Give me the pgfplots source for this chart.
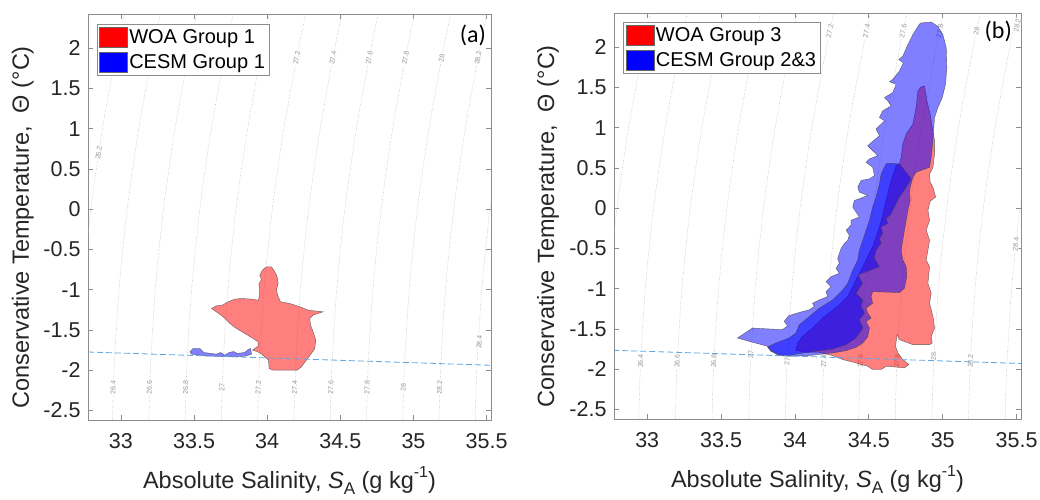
\documentclass[border=0pt]{standalone}
\usepackage{fontspec}
\setmainfont{Liberation Sans}
\newfontfamily\calib{Carlito}
\usepackage{pgfplots}
\usepackage{pgfplotstable}
\pgfplotsset{compat=1.18}
\definecolor{txt}{RGB}{38,38,38}
\definecolor{frz}{RGB}{95,165,222}
\definecolor{axgray}{RGB}{140,140,140}
\definecolor{dens}{RGB}{185,185,185}
\definecolor{dlab}{RGB}{150,150,150}

\pgfplotstableread{
T s262 s264 s266 s268 s270 s272 s274 s276 s278 s280 s282 s284
-2.62 32.695 32.943 33.191 33.439 33.687 33.935 34.183 34.431 34.679 34.927 35.175 35.423
-2.00 32.705 32.953 33.201 33.449 33.697 33.945 34.193 34.441 34.689 34.937 35.185 35.433
-1.00 32.739 32.987 33.235 33.483 33.731 33.979 34.227 34.475 34.723 34.971 35.219 35.467
 0.00 32.795 33.043 33.291 33.539 33.787 34.035 34.283 34.531 34.779 35.027 35.275 35.523
 1.00 32.874 33.122 33.370 33.618 33.866 34.114 34.362 34.610 34.858 35.106 35.354 35.602
 2.00 32.974 33.222 33.470 33.718 33.966 34.214 34.462 34.710 34.958 35.206 35.454 35.702
 2.42 33.022 33.270 33.518 33.766 34.014 34.262 34.510 34.758 35.006 35.254 35.502 35.750
}\denstab

\tikzset{dl/.style={font=\fontsize{7}{7}\selectfont, text=dlab, fill=white, inner sep=0.6pt}}

\pgfplotsset{
 tsax/.style={
   scale only axis, height=406pt,
   xmin=32.775, xmax=35.53, ymin=-2.62, ymax=2.425,
   xtick={33,33.5,34,34.5,35,35.5},
   xticklabels={33,33.5,34,34.5,35,35.5},
   ytick={-2.5,-2,-1.5,-1,-0.5,0,0.5,1,1.5,2},
   yticklabels={-2.5,-2,-1.5,-1,-0.5,0,0.5,1,1.5,2},
   tick align=inside, major tick length=5pt,
   axis line style={axgray, line width=0.7pt},
   tick style={axgray, line width=0.7pt},
   ticklabel style={font=\fontsize{21.5}{22}\selectfont, text=txt},
   xticklabel style={yshift=-10pt},
   yticklabel style={xshift=-4pt},
   xlabel={Absolute Salinity, \textit{S}\raisebox{-0.5ex}{\fontsize{17}{17}\selectfont A} (g kg\raisebox{0.85ex}{\fontsize{16}{16}\selectfont -1})},
   ylabel={Conservative Temperature,\ \ Θ (°C)},
   xlabel style={font=\fontsize{23.5}{24}\selectfont, text=txt, at={(axis description cs:0.5,-0.1675)}, anchor=base},
   ylabel style={font=\fontsize{23.5}{24}\selectfont, text=txt, at={(axis description cs:-0.162,0.475)}, anchor=center},
   legend style={draw=axgray, fill=white, font=\fontsize{20}{22}\selectfont, text=black,
      anchor=north west, inner xsep=2pt, inner ysep=3pt, row sep=4.5pt,
      nodes={inner sep=2pt}, cells={anchor=west}},
   legend image code/.code={\draw[##1] (0pt,-10pt) rectangle (28pt,10pt);},
 },
 densline/.style={dens, line width=0.5pt, dash pattern=on 0.8pt off 1.6pt, smooth, forget plot},
 redp/.style={fill=red, fill opacity=0.5, draw=black!75, draw opacity=0.8, line width=0.4pt, forget plot},
 bluep/.style={fill=blue, fill opacity=0.5, draw=black!75, draw opacity=0.8, line width=0.4pt, forget plot},
 frzline/.style={frz, line width=0.8pt, dash pattern=on 6pt off 3pt, forget plot},
}

\begin{document}
\begin{tikzpicture}
\path[use as bounding box] (0pt,0pt) rectangle (1040pt,499pt);

% ---------------- panel (a)
\begin{axis}[tsax, width=403pt, at={(88pt,79pt)}, anchor=south west,
  legend style={at={(axis description cs:0.0216,0.975)}}]
\addlegendimage{fill=red, draw=black!60}
\addlegendentry{WOA Group 1}
\addlegendimage{fill=blue, draw=black!60}
\addlegendentry{CESM Group 1}
\pgfplotsinvokeforeach{s262,s264,s266,s268,s270,s272,s274,s276,s278,s280,s282,s284}{
  \addplot[densline] table[x=#1,y=T]{\denstab};
}
\node[dl,rotate=88] at (axis cs:32.947,-2.22) {26.4};
\node[dl,rotate=88] at (axis cs:33.195,-2.22) {26.6};
\node[dl,rotate=88] at (axis cs:33.443,-2.22) {26.8};
\node[dl,rotate=88] at (axis cs:33.691,-2.22) {27};
\node[dl,rotate=88] at (axis cs:33.939,-2.22) {27.2};
\node[dl,rotate=88] at (axis cs:34.187,-2.22) {27.4};
\node[dl,rotate=88] at (axis cs:34.435,-2.22) {27.6};
\node[dl,rotate=88] at (axis cs:34.683,-2.22) {27.8};
\node[dl,rotate=88] at (axis cs:34.931,-2.22) {28};
\node[dl,rotate=88] at (axis cs:35.179,-2.22) {28.2};
\node[dl,rotate=80] at (axis cs:34.201,1.88) {27.2};
\node[dl,rotate=80] at (axis cs:34.449,1.88) {27.4};
\node[dl,rotate=80] at (axis cs:34.697,1.88) {27.6};
\node[dl,rotate=80] at (axis cs:34.945,1.88) {27.8};
\node[dl,rotate=80] at (axis cs:35.193,1.88) {28};
\node[dl,rotate=80] at (axis cs:35.441,1.88) {28.2};
\node[dl,rotate=82] at (axis cs:32.848,0.70) {26.2};
\node[dl,rotate=86] at (axis cs:35.450,-1.65) {28.4};
% WOA group 1
\addplot[redp] coordinates {
(33.995,-0.716) (33.968,-0.757) (33.949,-0.820) (33.961,-0.874) (33.943,-0.932)
(33.949,-1.006) (33.945,-1.089) (33.940,-1.131) (33.893,-1.118) (33.824,-1.110)
(33.779,-1.118) (33.733,-1.151) (33.694,-1.192) (33.653,-1.201) (33.619,-1.234)
(33.653,-1.276) (33.699,-1.338) (33.745,-1.421) (33.790,-1.483) (33.847,-1.545)
(33.904,-1.607) (33.938,-1.649) (33.938,-1.703) (33.899,-1.752) (33.931,-1.769)
(33.956,-1.793) (33.984,-1.835) (34.009,-1.876) (34.013,-1.980) (34.041,-2.001)
(34.204,-2.001) (34.234,-1.959) (34.268,-1.876) (34.302,-1.793) (34.325,-1.731)
(34.332,-1.628) (34.314,-1.524) (34.296,-1.441) (34.291,-1.358) (34.314,-1.317)
(34.382,-1.276) (34.280,-1.255) (34.223,-1.213) (34.154,-1.172) (34.091,-1.151)
(34.075,-1.089) (34.063,-1.006) (34.075,-0.923) (34.068,-0.840) (34.052,-0.778)
(34.029,-0.716)
} -- cycle;
% CESM group 1
\addplot[bluep] coordinates {
(33.471,-1.773) (33.494,-1.731) (33.540,-1.731) (33.567,-1.781) (33.653,-1.802)
(33.681,-1.781) (33.710,-1.814) (33.740,-1.781) (33.772,-1.769) (33.795,-1.793)
(33.847,-1.781) (33.870,-1.744) (33.886,-1.731) (33.893,-1.802) (33.847,-1.827)
(33.767,-1.835) (33.676,-1.831) (33.585,-1.823) (33.517,-1.810) (33.483,-1.802)
} -- cycle;
\addplot[frzline] coordinates {(32.775,-1.775) (35.53,-1.94)};
\node[font=\calib\fontsize{24}{24}\selectfont, text=black] at (axis description cs:0.955,0.948) {(a)};
\end{axis}

% ---------------- panel (b)
\begin{axis}[tsax, width=407pt, at={(614pt,80pt)}, anchor=south west,
  legend style={at={(axis description cs:0.023,0.979)}}]
\addlegendimage{fill=red, draw=black!60}
\addlegendentry{WOA Group 3}
\addlegendimage{fill=blue, draw=black!60}
\addlegendentry{CESM Group 2\&3}
\pgfplotsinvokeforeach{s262,s264,s266,s268,s270,s272,s274,s276,s278,s280,s282,s284}{
  \addplot[densline] table[x=#1,y=T]{\denstab};
}
\node[dl,rotate=88] at (axis cs:32.955,-1.90) {26.4};
\node[dl,rotate=88] at (axis cs:33.203,-1.90) {26.6};
\node[dl,rotate=88] at (axis cs:33.451,-1.90) {26.8};
\node[dl,rotate=88] at (axis cs:33.701,-1.82) {27};
\node[dl,rotate=88] at (axis cs:33.947,-1.90) {27};
\node[dl,rotate=88] at (axis cs:34.195,-1.90) {27.4};
\node[dl,rotate=88] at (axis cs:34.443,-1.90) {27.6};
\node[dl,rotate=88] at (axis cs:34.691,-1.90) {27.8};
\node[dl,rotate=88] at (axis cs:34.939,-1.84) {28};
\node[dl,rotate=88] at (axis cs:35.187,-1.90) {28.2};
\node[dl,rotate=79] at (axis cs:34.236,2.20) {27.2};
\node[dl,rotate=79] at (axis cs:34.484,2.20) {27.4};
\node[dl,rotate=79] at (axis cs:34.732,2.20) {27.6};
\node[dl,rotate=79] at (axis cs:34.980,2.20) {27.8};
\node[dl,rotate=79] at (axis cs:35.228,2.20) {28};
\node[dl,rotate=79] at (axis cs:35.505,2.27) {28.2};
\node[dl,rotate=85] at (axis cs:35.495,-0.45) {28.4};
% WOA group 3
\addplot[redp] coordinates {
(34.854,1.506) (34.877,1.518) (34.893,1.333) (34.915,1.168) (34.929,1.003)
(34.945,0.838) (34.945,0.673) (34.934,0.508) (34.911,0.426) (34.915,0.323)
(34.934,0.261) (34.952,0.138) (34.915,0.088) (34.900,-0.027) (34.911,-0.151)
(34.888,-0.274) (34.911,-0.398) (34.900,-0.522) (34.888,-0.645) (34.911,-0.728)
(34.900,-0.934) (34.922,-1.057) (34.911,-1.181) (34.934,-1.346) (34.945,-1.490)
(34.922,-1.593) (34.929,-1.675) (34.911,-1.696) (34.798,-1.696) (34.707,-1.634)
(34.692,-1.572) (34.680,-1.716) (34.696,-1.799) (34.730,-1.881) (34.771,-1.943)
(34.741,-1.984) (34.617,-1.964) (34.583,-2.005) (34.526,-2.005) (34.492,-1.964)
(34.413,-1.923) (34.323,-1.881) (34.255,-1.832) (34.165,-1.791) (34.074,-1.791)
(34.006,-1.766) (34.018,-1.675) (34.052,-1.593) (34.119,-1.490) (34.187,-1.366)
(34.244,-1.284) (34.300,-1.201) (34.357,-1.098) (34.391,-0.975) (34.425,-0.851)
(34.459,-0.728) (34.492,-0.604) (34.526,-0.480) (34.549,-0.357) (34.572,-0.233)
(34.590,-0.110) (34.606,0.014) (34.628,0.179) (34.651,0.344) (34.685,0.529)
(34.707,0.550) (34.719,0.632) (34.730,0.797) (34.753,0.920) (34.798,1.044)
(34.820,1.250) (34.832,1.456)
} -- cycle;
% CESM group 2 (outer)
\addplot[bluep] coordinates {
(34.854,2.301) (34.922,2.313) (34.967,2.260) (35.001,2.157) (35.024,1.992)
(35.028,1.745) (35.019,1.539) (34.997,1.374) (34.967,1.250) (34.945,1.127)
(34.938,0.962) (34.934,0.838) (34.922,0.632) (34.911,0.508) (34.820,0.447)
(34.798,0.385) (34.780,0.261) (34.775,0.179) (34.780,0.096) (34.764,-0.027)
(34.753,-0.151) (34.741,-0.274) (34.730,-0.398) (34.719,-0.522) (34.730,-0.645)
(34.753,-0.728) (34.757,-0.851) (34.741,-0.995) (34.707,-1.049) (34.526,-1.037)
(34.515,-1.098) (34.526,-1.181) (34.481,-1.243) (34.492,-1.304) (34.515,-1.366)
(34.481,-1.407) (34.504,-1.490) (34.492,-1.601) (34.459,-1.675) (34.413,-1.729)
(34.346,-1.770) (34.255,-1.799) (34.210,-1.807) (34.097,-1.832) (33.961,-1.840)
(33.893,-1.832) (33.837,-1.778) (33.814,-1.716) (33.690,-1.655) (33.611,-1.613)
(33.712,-1.490) (33.916,-1.510) (33.950,-1.461) (33.927,-1.407) (33.957,-1.337)
(34.029,-1.296) (34.097,-1.263) (34.131,-1.222) (34.119,-1.181) (34.165,-1.140)
(34.221,-1.098) (34.210,-1.037) (34.244,-0.975) (34.210,-0.913) (34.244,-0.851)
(34.300,-0.810) (34.278,-0.748) (34.300,-0.686) (34.289,-0.625) (34.312,-0.501)
(34.334,-0.439) (34.357,-0.398) (34.368,-0.336) (34.346,-0.274) (34.379,-0.213)
(34.379,-0.151) (34.436,-0.110) (34.413,-0.048) (34.391,0.014) (34.402,0.096)
(34.436,0.117) (34.492,0.158) (34.436,0.199) (34.425,0.261) (34.447,0.344)
(34.504,0.364) (34.538,0.405) (34.526,0.508) (34.481,0.570) (34.504,0.611)
(34.560,0.653) (34.526,0.714) (34.492,0.776) (34.531,0.838) (34.572,0.900)
(34.549,0.982) (34.606,1.085) (34.572,1.127) (34.594,1.209) (34.651,1.271)
(34.628,1.333) (34.606,1.374) (34.662,1.436) (34.685,1.539) (34.640,1.571)
(34.662,1.600) (34.707,1.703) (34.734,1.806) (34.703,1.848) (34.730,1.889)
(34.764,2.033) (34.798,2.157) (34.843,2.288)
} -- cycle;
% CESM group 3 (inner)
\addplot[bluep] coordinates {
(34.628,0.558) (34.707,0.550) (34.787,0.364) (34.753,0.261) (34.707,0.138)
(34.673,0.014) (34.651,-0.068) (34.617,-0.130) (34.628,-0.192) (34.583,-0.233)
(34.594,-0.316) (34.572,-0.377) (34.583,-0.439) (34.549,-0.522) (34.538,-0.625)
(34.572,-0.728) (34.425,-0.831) (34.459,-0.934) (34.413,-1.057) (34.459,-1.140)
(34.447,-1.222) (34.470,-1.304) (34.436,-1.387) (34.459,-1.490) (34.413,-1.613)
(34.346,-1.696) (34.255,-1.750) (34.142,-1.778) (34.029,-1.807) (33.961,-1.832)
(33.893,-1.824) (33.837,-1.770) (33.814,-1.725) (33.871,-1.675) (33.961,-1.613)
(34.006,-1.552) (34.029,-1.449) (34.097,-1.346) (34.165,-1.243) (34.255,-1.140)
(34.323,-1.016) (34.357,-0.934) (34.391,-0.769) (34.425,-0.645) (34.436,-0.522)
(34.459,-0.398) (34.481,-0.274) (34.504,-0.151) (34.526,0.014) (34.549,0.138)
(34.572,0.302) (34.583,0.426) (34.617,0.550)
} -- cycle;
\addplot[frzline] coordinates {(32.77,-1.766) (35.53,-1.93)};
\node[font=\calib\fontsize{24}{24}\selectfont, text=black] at (axis description cs:0.944,0.954) {(b)};
\end{axis}
\end{tikzpicture}
\end{document}
